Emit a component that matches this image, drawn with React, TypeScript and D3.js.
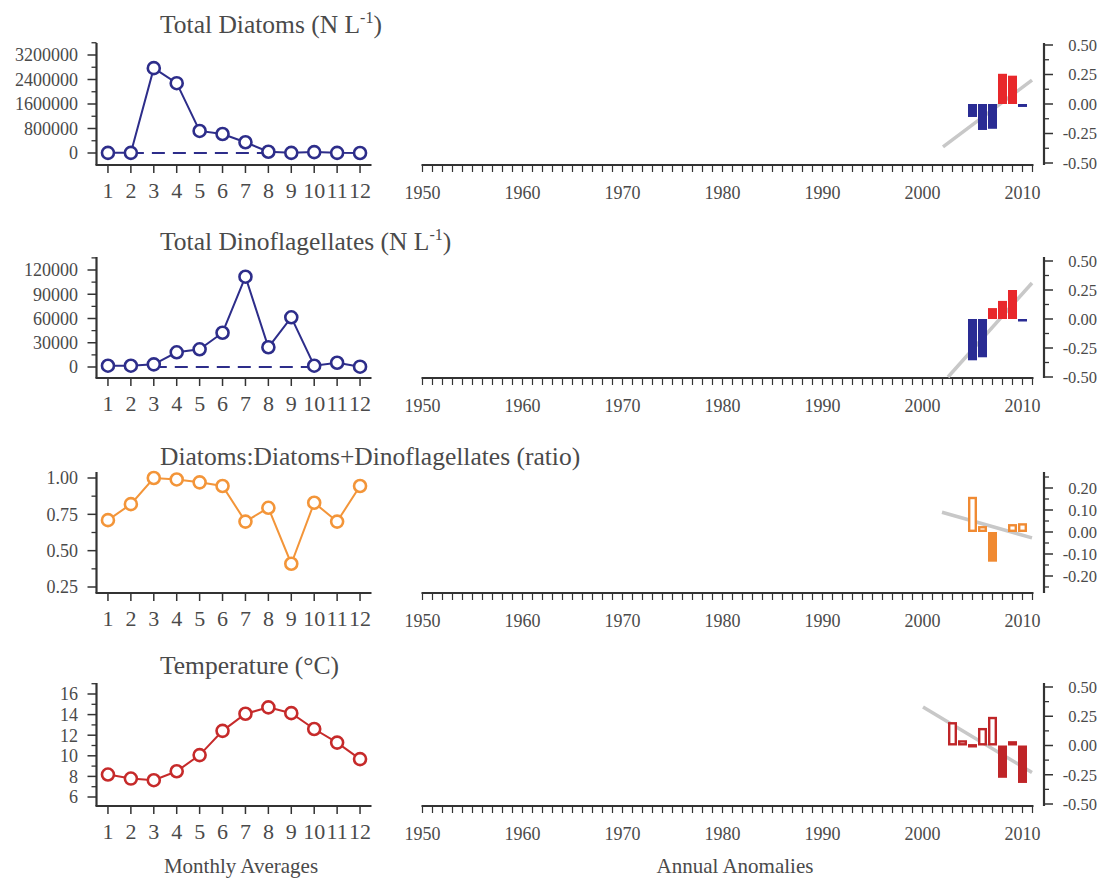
import React from 'react';
import * as d3 from 'd3';

// ---------- data ----------
const months = [1, 2, 3, 4, 5, 6, 7, 8, 9, 10, 11, 12];
const monthLabels = months.map(String);

const diatomsMonthly = [5000, 5000, 2770000, 2280000, 720000, 620000, 350000, 40000, 5000, 30000, 5000, 0];
const dinoMonthly = [1600, 1600, 3300, 18200, 21900, 42400, 111700, 24400, 61500, 1600, 5300, 400];
const ratioMonthly = [0.71, 0.82, 1.0, 0.99, 0.97, 0.945, 0.7, 0.795, 0.41, 0.83, 0.7, 0.945];
const tempMonthly = [8.18, 7.79, 7.63, 8.5, 10.07, 12.42, 14.08, 14.7, 14.14, 12.6, 11.28, 9.68];

const diatomsDash = [2, 8];
const dinoDash = [3, 10];

const diatomsYears = [2005, 2006, 2007, 2008, 2009, 2010];
const diatomsAnom = [-0.11, -0.22, -0.21, 0.256, 0.24, -0.025];
const dinoYears = [2005, 2006, 2007, 2008, 2009, 2010];
const dinoAnom = [-0.356, -0.33, 0.094, 0.156, 0.25, -0.02];
const ratioYears = [2005, 2006, 2007, 2009, 2010];
const ratioAnom = [0.16, 0.027, -0.135, 0.036, 0.04];
const tempYears = [2003, 2004, 2005, 2006, 2007, 2008, 2009, 2010];
const tempAnom = [0.2, 0.045, 0.012, 0.15, 0.245, -0.276, 0.037, -0.32];

const diatomsTrend = [[2002.05, -0.364], [2010.95, 0.203]];
const dinoTrend = [[2002.55, -0.5], [2010.95, 0.31]];
const ratioTrend = [[2001.95, 0.09], [2010.95, -0.027]];
const tempTrend = [[2000.05, 0.33], [2010.95, -0.23]];

const diatomsTicks = [0, 800000, 1600000, 2400000, 3200000];
const diatomsMinor = [400000, 1200000, 2000000, 2800000, 3600000];
const dinoTicks = [0, 30000, 60000, 90000, 120000];
const dinoMinor = [15000, 45000, 75000, 105000, 135000];
const ratioTicks = [0.25, 0.5, 0.75, 1.0];
const ratioMinor = [0.375, 0.625, 0.875];
const tempTicks = [6, 8, 10, 12, 14, 16];
const tempMinor = [7, 9, 11, 13, 15, 17];

const anomTicks = [-0.5, -0.25, 0, 0.25, 0.5];
const anomMinor = [-0.375, -0.125, 0.125, 0.375];
const ratioAnomTicks = [-0.2, -0.1, 0, 0.1, 0.2];
const ratioAnomMinor = [-0.25, -0.15, -0.05, 0.05, 0.15, 0.25];

const yearTicks = d3.range(1950, 2012);
const yearLabels = [1950, 1960, 1970, 1980, 1990, 2000, 2010];

const titles = [
  ['Total Diatoms (N L', '-1', ')'],
  ['Total Dinoflagellates (N L', '-1', ')'],
  ['Diatoms:Diatoms+Dinoflagellates (ratio)', '', ''],
  ['Temperature (°C)', '', ''],
];

// ---------- styles / layout ----------
const FONT = '"Liberation Serif", "Times New Roman", serif';
const TEXT = '#4a4a4a';
const AXIS = '#333';
const TREND = '#c8c8c8';

const NAVY = '#2d2d8a';
const ORANGE = '#f39539';
const DARKRED = '#c62a2a';

const panels = [
  {
    title: titles[0], top: 43, bottom: 165, titleY: 33,
    leftDomain: [0, 3200000], leftRange: [153, 55],
    rightDomain: [-0.5, 0.5], rightRange: [163, 45],
    values: diatomsMonthly, dash: diatomsDash, color: NAVY,
    ticks: diatomsTicks, minor: diatomsMinor, fmt: (v: number) => String(v),
    years: diatomsYears, anom: diatomsAnom, trend: diatomsTrend,
    rTicks: anomTicks, rMinor: anomMinor, rFmt: (v: number) => v.toFixed(2),
    barMode: 'sign', pos: '#e8282b', neg: '#2a2c94',
  },
  {
    title: titles[1], top: 257, bottom: 378, titleY: 250,
    leftDomain: [0, 120000], leftRange: [367, 270],
    rightDomain: [-0.5, 0.5], rightRange: [377, 261],
    values: dinoMonthly, dash: dinoDash, color: NAVY,
    ticks: dinoTicks, minor: dinoMinor, fmt: (v: number) => String(v),
    years: dinoYears, anom: dinoAnom, trend: dinoTrend,
    rTicks: anomTicks, rMinor: anomMinor, rFmt: (v: number) => v.toFixed(2),
    barMode: 'sign', pos: '#e8282b', neg: '#2a2c94',
  },
  {
    title: titles[2], top: 472, bottom: 593, titleY: 465,
    leftDomain: [0.25, 1.0], leftRange: [587, 478],
    rightDomain: [-0.2, 0.2], rightRange: [576, 488],
    values: ratioMonthly, dash: null, color: ORANGE,
    ticks: ratioTicks, minor: ratioMinor, fmt: (v: number) => v.toFixed(2),
    years: ratioYears, anom: ratioAnom, trend: ratioTrend,
    rTicks: ratioAnomTicks, rMinor: ratioAnomMinor, rFmt: (v: number) => v.toFixed(2),
    barMode: 'hollow', pos: '#f08a32', neg: '#f08a32',
  },
  {
    title: titles[3], top: 683, bottom: 806, titleY: 674,
    leftDomain: [6, 16], leftRange: [797, 694],
    rightDomain: [-0.5, 0.5], rightRange: [804, 687],
    values: tempMonthly, dash: null, color: DARKRED,
    ticks: tempTicks, minor: tempMinor, fmt: (v: number) => String(v),
    years: tempYears, anom: tempAnom, trend: tempTrend,
    rTicks: anomTicks, rMinor: anomMinor, rFmt: (v: number) => v.toFixed(2),
    barMode: 'hollow', pos: '#bf2528', neg: '#bf2528',
  },
];

const LEFT_X = 96.5;
const LEFT_END = 371.5;
const RIGHT_X0 = 422.5;
const RIGHT_X1 = 1032.5;
const RAXIS_X = 1044;

function Panel({ p }: { p: any }) {
  const xL = d3.scaleLinear().domain([0.5, 12.5]).range([LEFT_X, LEFT_END]);
  const yL = d3.scaleLinear().domain(p.leftDomain).range(p.leftRange);
  const xR = d3.scaleLinear().domain([1950, 2011]).range([RIGHT_X0, RIGHT_X1]);
  const yR = d3.scaleLinear().domain(p.rightDomain).range(p.rightRange);

  const line = d3.line<number>().x((_d, i) => xL(months[i])).y((d) => yL(d));
  const trendLine = d3.line<number[]>().x((d) => xR(d[0])).y((d) => yR(d[1]));

  const bw = (xR(1951) - xR(1950)) * 0.9;
  const y0 = yR(0);

  return (
    <g>
      {/* title */}
      <text x={160} y={p.titleY} fontSize={25.5} fill={TEXT} fontFamily={FONT}>
        {p.title[0]}
        {p.title[1] ? (
          <tspan fontSize={16} dy={-10}>{p.title[1]}</tspan>
        ) : null}
        {p.title[2] ? <tspan dy={10}>{p.title[2]}</tspan> : null}
      </text>

      {/* left axes */}
      <line x1={LEFT_X} x2={LEFT_X} y1={p.top} y2={p.bottom} stroke={AXIS} strokeWidth={2.2} />
      <line x1={LEFT_X - 1} x2={LEFT_END} y1={p.bottom} y2={p.bottom} stroke={AXIS} strokeWidth={2.2} />
      {p.ticks.map((t: number) => (
        <g key={'t' + t}>
          <line x1={LEFT_X - 9} x2={LEFT_X} y1={yL(t)} y2={yL(t)} stroke={AXIS} strokeWidth={1.5} />
          <text x={78} y={yL(t)} dy="0.35em" textAnchor="end" fontSize={18} fill={TEXT} fontFamily={FONT}>
            {p.fmt(t)}
          </text>
        </g>
      ))}
      {p.minor.map((t: number) => (
        <line key={'m' + t} x1={LEFT_X - 5} x2={LEFT_X} y1={yL(t)} y2={yL(t)} stroke={AXIS} strokeWidth={1.3} />
      ))}
      {months.map((m, i) => (
        <g key={'mo' + m}>
          <line x1={xL(m)} x2={xL(m)} y1={p.bottom} y2={p.bottom + 8} stroke={AXIS} strokeWidth={1.5} />
          <text x={xL(m)} y={p.bottom + 33} textAnchor="middle" fontSize={22} fill={TEXT} fontFamily={FONT}>
            {monthLabels[i]}
          </text>
        </g>
      ))}

      {/* dashed zero line */}
      {p.dash ? (
        <line
          x1={xL(p.dash[0])} x2={xL(p.dash[1])} y1={yL(0)} y2={yL(0)}
          stroke={p.color} strokeWidth={2} strokeDasharray="13,8"
        />
      ) : null}

      {/* monthly line */}
      <path d={line(p.values) || ''} fill="none" stroke={p.color} strokeWidth={2} />
      {p.values.map((v: number, i: number) => (
        <circle key={'c' + i} cx={xL(months[i])} cy={yL(v)} r={6} fill="#fff" stroke={p.color} strokeWidth={2.6} />
      ))}

      {/* right: year axis */}
      <line x1={RIGHT_X0 - 1} x2={RIGHT_X1 + 1} y1={p.bottom} y2={p.bottom} stroke={AXIS} strokeWidth={2} />
      {yearTicks.map((yr) => (
        <line key={'y' + yr} x1={xR(yr)} x2={xR(yr)} y1={p.bottom} y2={p.bottom + 7} stroke={AXIS} strokeWidth={1.2} />
      ))}
      {yearLabels.map((yr) => (
        <text key={'yl' + yr} x={xR(yr)} y={p.bottom + 34} textAnchor="middle" fontSize={18} fill={TEXT} fontFamily={FONT}>
          {yr}
        </text>
      ))}

      {/* right: value axis */}
      <line x1={RAXIS_X} x2={RAXIS_X} y1={p.top} y2={p.bottom} stroke={AXIS} strokeWidth={2.2} />
      {p.rTicks.map((t: number) => (
        <g key={'r' + t}>
          <line x1={RAXIS_X} x2={RAXIS_X + 9} y1={yR(t)} y2={yR(t)} stroke={AXIS} strokeWidth={1.5} />
          <text x={1097} y={yR(t)} dy="0.35em" textAnchor="end" fontSize={16.5} fill={TEXT} fontFamily={FONT}>
            {p.rFmt(t)}
          </text>
        </g>
      ))}
      {p.rMinor.map((t: number) => (
        <line key={'rm' + t} x1={RAXIS_X} x2={RAXIS_X + 5} y1={yR(t)} y2={yR(t)} stroke={AXIS} strokeWidth={1.3} />
      ))}

      {/* trend */}
      <path d={trendLine(p.trend) || ''} fill="none" stroke={TREND} strokeWidth={3.5} />

      {/* bars */}
      {p.years.map((yr: number, i: number) => {
        const v = p.anom[i];
        const yv = yR(v);
        const top = Math.min(yv, y0);
        const h = Math.abs(yv - y0);
        const x = xR(yr) - bw / 2;
        if (p.barMode === 'sign') {
          return (
            <rect key={'b' + yr} x={x} y={top} width={bw} height={Math.max(h, 2.5)} fill={v >= 0 ? p.pos : p.neg} />
          );
        }
        if (v >= 0) {
          return (
            <rect key={'b' + yr} x={x + 1.2} y={top + 1.2} width={bw - 2.4} height={Math.max(h - 2.4, 1)}
              fill="#fff" stroke={p.pos} strokeWidth={2.4} />
          );
        }
        return <rect key={'b' + yr} x={x} y={top} width={bw} height={h} fill={p.neg} />;
      })}
    </g>
  );
}

export default function App() {
  return (
    <svg
      width={1106}
      height={878}
      style={{ position: 'absolute', left: 0, top: 0, background: '#fff' }}
    >
      <rect x={0} y={0} width={1106} height={878} fill="#fff" />
      {panels.map((p, i) => (
        <Panel key={i} p={p} />
      ))}
      <text x={241} y={873} textAnchor="middle" fontSize={21} fill={TEXT} fontFamily={FONT}>
        Monthly Averages
      </text>
      <text x={735} y={873} textAnchor="middle" fontSize={21} fill={TEXT} fontFamily={FONT}>
        Annual Anomalies
      </text>
    </svg>
  );
}
